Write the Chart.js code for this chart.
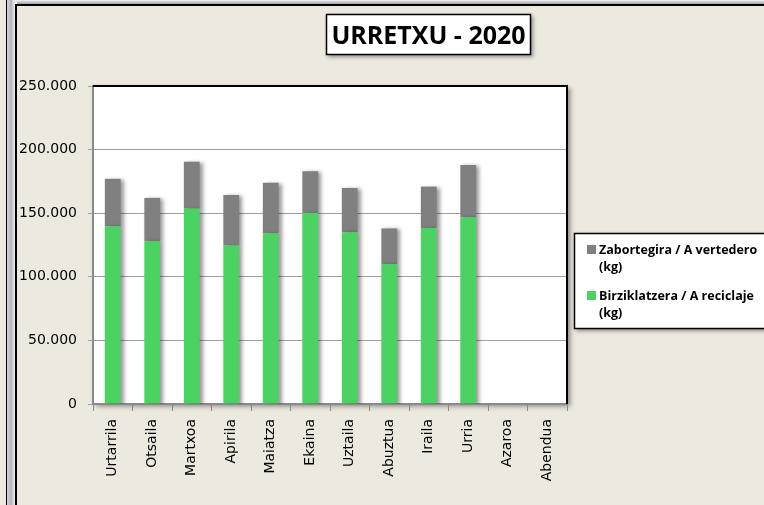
<!DOCTYPE html>
<html>
<head>
<meta charset="utf-8">
<script src="https://cdn.jsdelivr.net/npm/chart.js@4.4.1/dist/chart.umd.min.js"></script>
<style>
  html, body { margin: 0; padding: 0; background: #ECE9DF; }
  #wrap { position: relative; width: 764px; height: 505px; }
</style>
</head>
<body>
<div id="wrap"><canvas id="hondakinakChart" width="764" height="505"></canvas></div>
<script>
// Hilabeteak (months)
const months = ['Urtarrila', 'Otsaila', 'Martxoa', 'Apirila', 'Maiatza', 'Ekaina',
                'Uztaila', 'Abuztua', 'Iraila', 'Urria', 'Azaroa', 'Abendua'];

// kg
const reciclaje = [139700, 128000, 153600, 124600, 134200, 150200,
                   135000, 110000, 138400, 146800, null, null];
const vertedero = [37300, 34000, 36900, 39700, 39800, 32800,
                   34800, 28000, 32500, 41000, null, null];

const yTicks = [0, 50000, 100000, 150000, 200000, 250000];

const chartTitle = 'URRETXU - 2020';
const labelVertedero = 'Zabortegira / A vertedero (kg)';
const labelReciclaje = 'Birziklatzera / A reciclaje (kg)';

const GREEN = '#4CD262';
const GRAY = '#808080';
const BG = '#ECE9DF';

function fmt(v) {
    return v.toString().replace(/\B(?=(\d{3})+(?!\d))/g, '.');
}

// window frame, plot background and shadows
const framePlugin = {
    id: 'frame',
    beforeDraw(chart) {
        const ctx = chart.ctx;
        const a = chart.chartArea;
        ctx.save();
        ctx.fillStyle = BG;
        ctx.fillRect(0, 0, chart.width, chart.height);
        // left double edge
        let g = ctx.createLinearGradient(7, 0, 15, 0);
        g.addColorStop(0, '#d8d8d8');
        g.addColorStop(0.5, '#b4b4b8');
        g.addColorStop(1, '#f0f0f0');
        ctx.fillStyle = g;
        ctx.fillRect(7, 0, 8, chart.height);
        ctx.fillStyle = '#000';
        ctx.fillRect(6, 0, 1, chart.height);
        ctx.fillRect(15, 4, 2, chart.height);
        // top edge
        g = ctx.createLinearGradient(0, 0, 0, 4);
        g.addColorStop(0, '#f4f4f4');
        g.addColorStop(1, '#a0a0a4');
        ctx.fillStyle = g;
        ctx.fillRect(17, 0, chart.width, 4);
        ctx.fillStyle = '#000';
        ctx.fillRect(15, 4, chart.width, 2);
        // plot area
        ctx.shadowColor = 'rgba(0,0,0,0.45)';
        ctx.shadowBlur = 5;
        ctx.shadowOffsetX = 3;
        ctx.shadowOffsetY = 2;
        ctx.fillStyle = '#fff';
        ctx.fillRect(a.left, a.top, a.right - a.left, a.bottom - a.top);
        ctx.restore();
    },
    beforeDatasetsDraw(chart) {
        const ctx = chart.ctx;
        ctx.save();
        ctx.shadowColor = 'rgba(0,0,0,0.4)';
        ctx.shadowBlur = 4;
        ctx.shadowOffsetX = 3;
        ctx.shadowOffsetY = 1;
    },
    afterDatasetsDraw(chart) {
        chart.ctx.restore();
    },
    afterDraw(chart) {
        const ctx = chart.ctx;
        const a = chart.chartArea;
        ctx.save();
        ctx.strokeStyle = '#000';
        ctx.lineWidth = 2;
        ctx.beginPath();
        ctx.moveTo(a.left, a.top);
        ctx.lineTo(a.right, a.top);
        ctx.lineTo(a.right, a.bottom);
        ctx.stroke();

        // title box
        ctx.shadowColor = 'rgba(0,0,0,0.4)';
        ctx.shadowBlur = 4;
        ctx.shadowOffsetX = 2;
        ctx.shadowOffsetY = 2;
        ctx.fillStyle = '#fff';
        ctx.fillRect(326, 14, 205, 41);
        ctx.shadowColor = 'transparent';
        ctx.lineWidth = 1.5;
        ctx.strokeRect(326.5, 14.5, 204, 40);
        ctx.fillStyle = '#000';
        ctx.font = 'bold 25px "Open Sans"';
        ctx.textAlign = 'center';
        ctx.textBaseline = 'alphabetic';
        ctx.fillText(chartTitle, 428.5, 44);

        // legend box
        ctx.shadowColor = 'rgba(0,0,0,0.4)';
        ctx.shadowBlur = 4;
        ctx.shadowOffsetX = 2;
        ctx.shadowOffsetY = 2;
        ctx.fillStyle = '#fff';
        ctx.fillRect(574, 233, 200, 96);
        ctx.shadowColor = 'transparent';
        ctx.lineWidth = 1.5;
        ctx.strokeStyle = '#000';
        ctx.strokeRect(574.5, 233.5, 200, 95);

        const items = [
            { ds: chart.data.datasets[1], y: 245 },
            { ds: chart.data.datasets[0], y: 291 }
        ];
        ctx.font = 'bold 12.5px "Open Sans"';
        ctx.textAlign = 'left';
        items.forEach(it => {
            ctx.fillStyle = it.ds.backgroundColor;
            ctx.fillRect(587, it.y, 9, 9);
            const txt = it.ds.label;
            const cut = txt.lastIndexOf(' ');
            ctx.fillStyle = '#000';
            ctx.fillText(txt.slice(0, cut), 599, it.y + 9);
            ctx.fillText(txt.slice(cut + 1), 599, it.y + 26);
        });
        ctx.restore();
    }
};

const ctx = document.getElementById('hondakinakChart').getContext('2d');
const hondakinakChart = new Chart(ctx, {
    type: 'bar',
    data: {
        labels: months,
        datasets: [
            {
                label: labelReciclaje,
                data: reciclaje,
                backgroundColor: GREEN,
                barPercentage: 0.4,
                categoryPercentage: 1.0
            },
            {
                label: labelVertedero,
                data: vertedero,
                backgroundColor: GRAY,
                barPercentage: 0.4,
                categoryPercentage: 1.0
            }
        ]
    },
    options: {
        responsive: false,
        animation: false,
        layout: {
            padding: { left: 17, top: 86, right: 197, bottom: 0 }
        },
        plugins: {
            legend: { display: false },
            title: { display: false },
            tooltip: { enabled: false }
        },
        scales: {
            x: {
                stacked: true,
                afterFit: s => { s.height = 101; },
                grid: {
                    offset: true,
                    drawOnChartArea: false,
                    drawTicks: true,
                    tickLength: 7,
                    color: '#8a8a8a'
                },
                border: { color: '#8a8a8a', width: 2 },
                ticks: {
                    minRotation: 90,
                    maxRotation: 90,
                    padding: 8,
                    color: '#000',
                    font: { family: 'DejaVu Sans', size: 14 }
                }
            },
            y: {
                stacked: true,
                min: 0,
                max: 250000,
                afterFit: s => { s.width = 76; },
                afterBuildTicks: s => { s.ticks = yTicks.map(v => ({ value: v })); },
                grid: {
                    color: '#a0a0a0',
                    tickLength: 5
                },
                border: { color: '#8a8a8a', width: 2 },
                ticks: {
                    padding: 11,
                    color: '#000',
                    font: { family: 'DejaVu Sans', size: 14 },
                    callback: v => fmt(v)
                }
            }
        }
    },
    plugins: [framePlugin]
});
</script>
</body>
</html>
